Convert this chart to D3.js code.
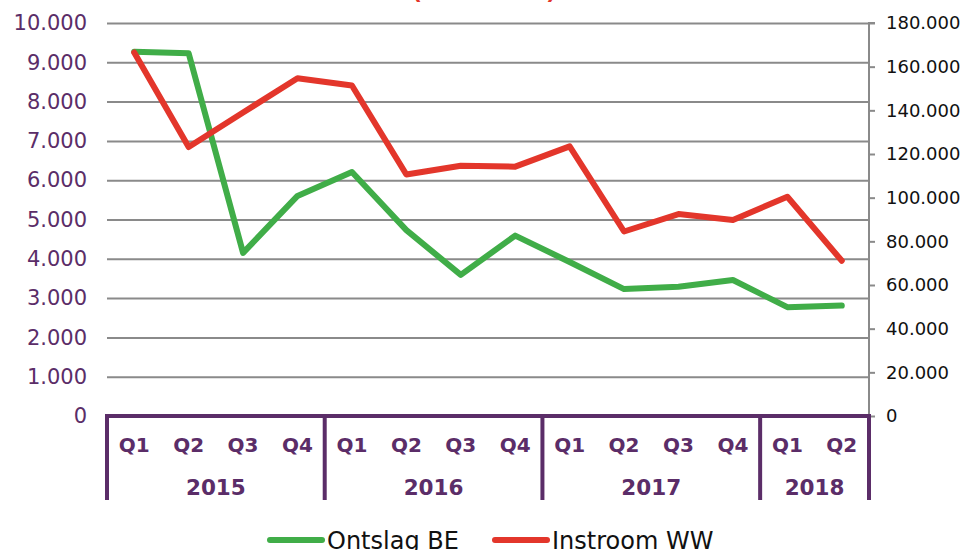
<!DOCTYPE html>
<html>
<head>
<meta charset="utf-8">
<script src="https://cdn.jsdelivr.net/npm/d3@7"></script>
<style>
  html, body { margin: 0; padding: 0; background: #fff; }
  svg { display: block; font-family: "DejaVu Sans", Verdana, sans-serif; }
</style>
</head>
<body>
<svg id="chart" width="967" height="550"></svg>
<script>
// ---- data ----
const quarters = ["Q1","Q2","Q3","Q4","Q1","Q2","Q3","Q4","Q1","Q2","Q3","Q4","Q1","Q2"];
const periodYears = ["2015","2015","2015","2015","2016","2016","2016","2016","2017","2017","2017","2017","2018","2018"];
const years = ["2015","2016","2017","2018"];
const ontslagBE = [9270, 9230, 4150, 5600, 6210, 4730, 3590, 4590, 3920, 3230, 3290, 3460, 2770, 2810];
const instroomWW = [166500, 123200, 139000, 154700, 151400, 110600, 114600, 114200, 123500, 84500, 92500, 89800, 100400, 71100];
const leftTicks = [0,1000,2000,3000,4000,5000,6000,7000,8000,9000,10000];
const rightTicks = [0,20000,40000,60000,80000,100000,120000,140000,160000,180000];
const seriesNames = ["Ontslag BE", "Instroom WW"];

// ---- setup ----
const purple = "#5b2d68";
const green = "#40ad48";
const red = "#e3362b";
const grid = "#8a8a8a";
const L = 107, R = 869, T = 23, B = 416;

const svg = d3.select("#chart");
const nl = d3.formatLocale({decimal: ",", thousands: ".", grouping: [3], currency: ["", ""]});
const fmt = nl.format(",");

const idx = quarters.map((d, i) => i);
const x = d3.scaleBand().domain(idx).range([L, R]).paddingInner(0).paddingOuter(0);
const yL = d3.scaleLinear().domain([0, 10000]).range([B, T]);
const yR = d3.scaleLinear().domain([0, 180000]).range([B, T]);

// partial title (cut off at top)
svg.append("text").attr("x", 412).attr("y", -1).attr("fill", red)
  .attr("font-size", 22).attr("font-weight", "bold").text("(");
svg.append("text").attr("x", 556).attr("y", -1).attr("fill", red).attr("text-anchor", "end")
  .attr("font-size", 22).attr("font-weight", "bold").text(")");

// gridlines
const gridG = svg.append("g").attr("transform", `translate(${L},0)`)
  .call(d3.axisLeft(yL).tickValues(leftTicks.slice(1)).tickSize(-(R - L)).tickFormat(""));
gridG.select(".domain").remove();
gridG.selectAll(".tick line").attr("stroke", grid).attr("stroke-width", 2);

// left axis labels
const leftAx = svg.append("g").attr("transform", `translate(${L},0)`)
  .call(d3.axisLeft(yL).tickValues(leftTicks).tickSize(0).tickPadding(20).tickFormat(fmt));
leftAx.select(".domain").remove();
leftAx.selectAll("text").attr("fill", purple).attr("font-size", 21)
  .attr("font-family", "DejaVu Sans, sans-serif");

// right axis
const rightAx = svg.append("g").attr("transform", `translate(${R},0)`)
  .call(d3.axisRight(yR).tickValues(rightTicks).tickSize(6).tickPadding(11).tickFormat(fmt));
rightAx.select(".domain").attr("stroke", grid).attr("stroke-width", 2).attr("d", `M6,${T}H0V${B}`);
rightAx.selectAll(".tick line").attr("stroke", grid).attr("stroke-width", 2);
rightAx.selectAll("text").attr("fill", "#111").attr("font-size", 18)
  .attr("font-family", "DejaVu Sans, sans-serif");

// category axis: quarter labels
const catAx = svg.append("g").attr("transform", `translate(0,${B})`)
  .call(d3.axisBottom(x).tickSize(0).tickPadding(0).tickFormat(i => quarters[i]));
catAx.select(".domain").remove();
catAx.selectAll("text").attr("fill", purple).attr("font-size", 20).attr("font-weight", "bold")
  .attr("dy", null).attr("y", 36).attr("font-family", "DejaVu Sans, sans-serif");

// year groups
const yearGroups = years.map(yv => {
  const ids = idx.filter(i => periodYears[i] === yv);
  return { year: yv, x0: x(ids[0]), x1: x(ids[ids.length - 1]) + x.bandwidth() };
});
const sepX = [L].concat(yearGroups.map(g => g.x1));
svg.append("g").selectAll("line").data(sepX).join("line")
  .attr("x1", d => d).attr("x2", d => d).attr("y1", B).attr("y2", 500)
  .attr("stroke", purple).attr("stroke-width", 4);
svg.append("g").selectAll("text").data(yearGroups).join("text")
  .attr("x", d => (d.x0 + d.x1) / 2).attr("y", 495).attr("text-anchor", "middle")
  .attr("fill", purple).attr("font-size", 21.5).attr("font-weight", "bold").text(d => d.year);
svg.append("line").attr("x1", L - 2).attr("x2", R + 2).attr("y1", B).attr("y2", B)
  .attr("stroke", purple).attr("stroke-width", 4);

// lines
const lineL = d3.line().x((d, i) => x(i) + x.bandwidth() / 2).y(d => yL(d));
const lineR = d3.line().x((d, i) => x(i) + x.bandwidth() / 2).y(d => yR(d));
svg.append("path").datum(ontslagBE).attr("d", lineL).attr("fill", "none")
  .attr("stroke", green).attr("stroke-width", 6).attr("stroke-linejoin", "round").attr("stroke-linecap", "round");
svg.append("path").datum(instroomWW).attr("d", lineR).attr("fill", "none")
  .attr("stroke", red).attr("stroke-width", 6).attr("stroke-linejoin", "round").attr("stroke-linecap", "round");

// legend
const legend = [
  { name: seriesNames[0], color: green, x: 270 },
  { name: seriesNames[1], color: red, x: 495 }
];
const lg = svg.append("g").selectAll("g").data(legend).join("g")
  .attr("transform", d => `translate(${d.x},540)`);
lg.append("line").attr("x1", 0).attr("x2", 52).attr("stroke", d => d.color)
  .attr("stroke-width", 6).attr("stroke-linecap", "round");
lg.append("text").attr("x", 57).attr("y", 9).attr("font-size", 24).attr("fill", "#111")
  .text(d => d.name);
</script>
</body>
</html>
